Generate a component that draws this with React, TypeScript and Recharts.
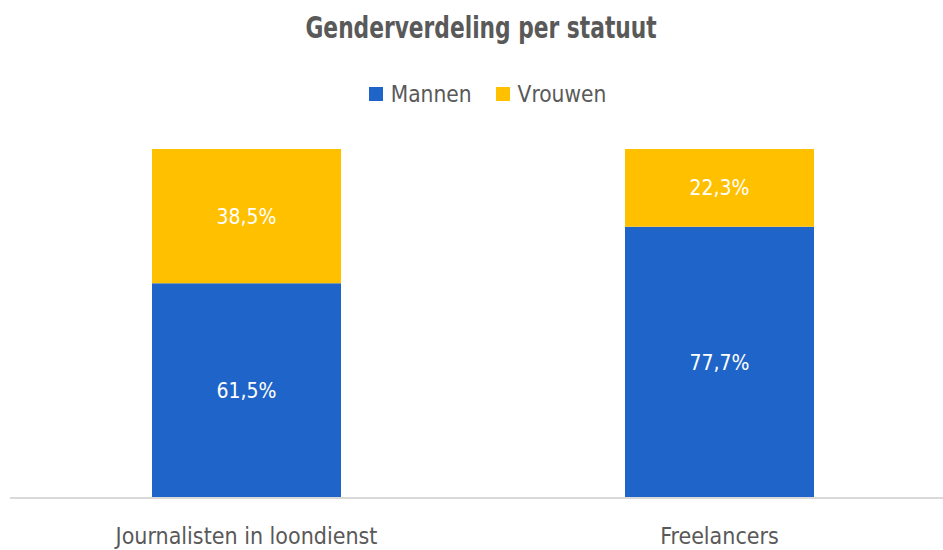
import React from 'react';
import { BarChart, Bar, XAxis, YAxis, LabelList } from 'recharts';

const categories = ['Journalisten in loondienst', 'Freelancers'];
const mannen = [61.5, 77.7];
const vrouwen = [38.5, 22.3];

const data = categories.map((name, i) => ({ name, Mannen: mannen[i], Vrouwen: vrouwen[i] }));

const FONT = '"Liberation Sans Narrow", "DejaVu Sans Condensed", "Roboto", sans-serif';
const GREY = '#595959';
const BLUE = '#1F64C8';
const YELLOW = '#FFC000';

const fmt = (v: any) => String(Number(v).toFixed(1)).replace('.', ',') + '%';

export default function App() {
  return (
    <div style={{ position: 'absolute', left: 0, top: 0, width: 943, height: 550, overflow: 'hidden', background: '#fff', fontFamily: FONT }}>
      <div style={{ position: 'absolute', top: 9, width: 943, textAlign: 'center', fontSize: 31, fontWeight: 'bold', color: GREY }}>
        <span style={{ display: 'inline-block', transform: 'scaleX(0.78)', marginLeft: 20 }}>Genderverdeling per statuut</span>
      </div>
      <div style={{ position: 'absolute', top: 81, left: 16, width: 943, display: 'flex', justifyContent: 'center', alignItems: 'center', fontSize: 22.5, color: GREY }}>
        <span style={{ width: 14, height: 14, background: BLUE, display: 'inline-block', marginRight: 8 }} />
        <span style={{ marginRight: 24 }}>Mannen</span>
        <span style={{ width: 14, height: 14, background: YELLOW, display: 'inline-block', marginRight: 8 }} />
        <span>Vrouwen</span>
      </div>
      <BarChart width={956} height={550} data={data} margin={{ top: 149, right: 0, bottom: 22, left: 10 }}>
        <XAxis
          dataKey="name"
          tickLine={false}
          axisLine={{ stroke: '#D9D9D9', strokeWidth: 2 }}
          tick={{ fill: GREY, fontSize: 23, fontFamily: FONT }}
          tickMargin={24}
        />
        <YAxis hide domain={[0, 100]} />
        <Bar dataKey="Mannen" stackId="a" fill={BLUE} barSize={189} isAnimationActive={false}>
          <LabelList dataKey="Mannen" position="center" formatter={fmt} fill="#fff" style={{ fontSize: 21, fontFamily: FONT }} />
        </Bar>
        <Bar dataKey="Vrouwen" stackId="a" fill={YELLOW} barSize={189} isAnimationActive={false}>
          <LabelList dataKey="Vrouwen" position="center" formatter={fmt} fill="#fff" style={{ fontSize: 21, fontFamily: FONT }} />
        </Bar>
      </BarChart>
    </div>
  );
}
